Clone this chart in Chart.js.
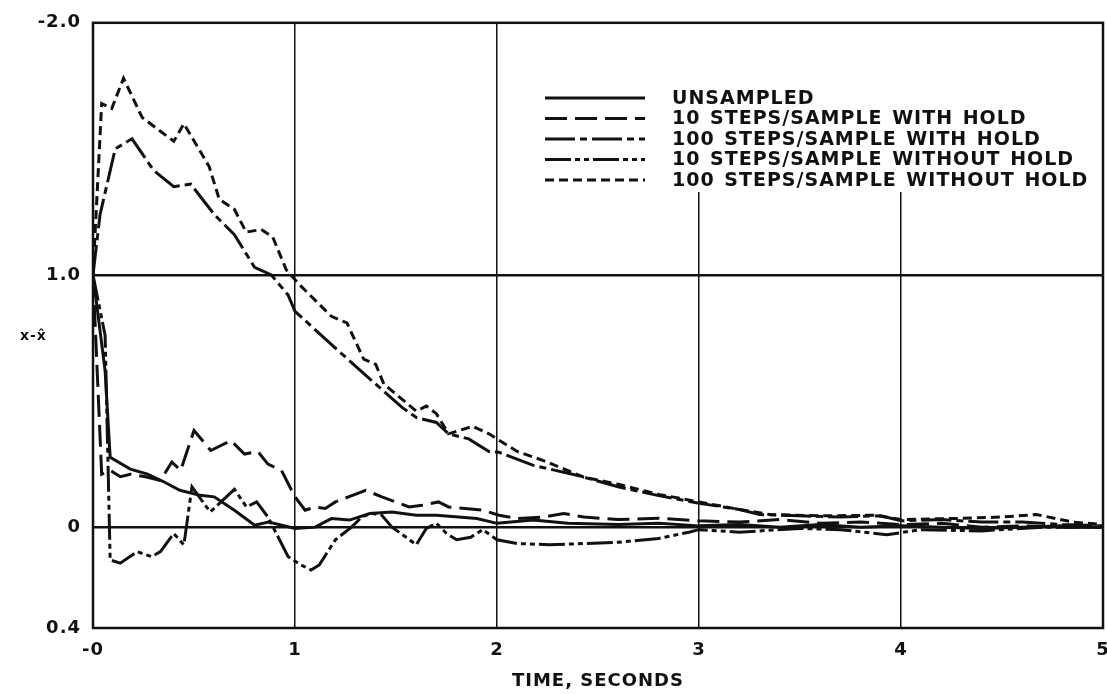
<!DOCTYPE html>
<html>
<head>
<meta charset="utf-8">
<script src="https://cdn.jsdelivr.net/npm/chart.js@4"></script>
<style>
  html, body { margin: 0; padding: 0; background: #fff; }
</style>
</head>
<body>
<canvas id="errChart" width="1107" height="694"></canvas>
<script>
// estimation error x - x̂ against time, five runs

const seriesNames = [
  'UNSAMPLED',
  '10 STEPS/SAMPLE WITH HOLD',
  '100 STEPS/SAMPLE WITH HOLD',
  '10 STEPS/SAMPLE WITHOUT HOLD',
  '100 STEPS/SAMPLE WITHOUT HOLD'
];

const xTickValues = [0, 1, 2, 3, 4, 5];
const xTickLabels = ['-0', '1', '2', '3', '4', '5'];
const yTickValues = [-0.4, 0, 1, 2];
const yTickLabels = ['0.4', '0', '1.0', '-2.0'];

// unsampled
const unsampledT = [0, 0.06, 0.085, 0.185, 0.27, 0.35, 0.43, 0.53, 0.6, 0.7, 0.8, 0.87, 1.0, 1.1, 1.18, 1.27, 1.37, 1.48, 1.6, 1.7, 1.81, 1.9, 2.0, 2.18, 2.35, 2.6, 2.8, 3.0, 3.2, 3.4, 3.6, 3.8, 4.0, 4.2, 4.4, 4.6, 4.8, 5.0];
const unsampledV = [1.0, 0.62, 0.277, 0.23, 0.21, 0.18, 0.146, 0.126, 0.12, 0.067, 0.008, 0.02, -0.005, 0.0, 0.034, 0.028, 0.054, 0.06, 0.047, 0.047, 0.04, 0.034, 0.015, 0.028, 0.015, 0.01, 0.015, 0.005, 0.01, 0.0, 0.01, 0.0, 0.005, 0.0, -0.005, 0.0, 0.005, 0.0];

// 10 steps/sample with hold
const hold10T = [0, 0.043, 0.085, 0.135, 0.185, 0.26, 0.334, 0.39, 0.434, 0.5, 0.583, 0.683, 0.75, 0.816, 0.866, 0.933, 1.0, 1.05, 1.1, 1.15, 1.2, 1.265, 1.35, 1.43, 1.565, 1.63, 1.71, 1.76, 1.93, 2.01, 2.1, 2.23, 2.33, 2.43, 2.6, 2.8, 3.0, 3.2, 3.4, 3.6, 3.8, 4.0, 4.2, 4.4, 4.6, 4.8, 5.0];
const hold10V = [1.0, 0.21, 0.225, 0.2, 0.21, 0.2, 0.185, 0.258, 0.225, 0.383, 0.304, 0.343, 0.29, 0.3, 0.25, 0.225, 0.12, 0.067, 0.08, 0.074, 0.1, 0.12, 0.146, 0.12, 0.08, 0.087, 0.1, 0.08, 0.067, 0.047, 0.034, 0.04, 0.054, 0.04, 0.03, 0.035, 0.025, 0.02, 0.03, 0.015, 0.02, 0.01, 0.015, 0.0, 0.005, 0.0, 0.0];

// 100 steps/sample with hold
const hold100T = [0, 0.035, 0.11, 0.193, 0.3, 0.4, 0.484, 0.6, 0.7, 0.8, 0.883, 0.966, 1.0, 1.2, 1.4, 1.53, 1.6, 1.7, 1.76, 1.86, 1.96, 2.01, 2.18, 2.4, 2.6, 2.8, 3.0, 3.2, 3.3, 3.5, 3.7, 3.9, 4.0, 4.2, 4.4, 4.6, 4.8, 5.0];
const hold100V = [1.0, 1.24, 1.5, 1.54, 1.415, 1.35, 1.36, 1.24, 1.16, 1.03, 1.0, 0.92, 0.856, 0.71, 0.567, 0.475, 0.435, 0.415, 0.37, 0.35, 0.3, 0.297, 0.245, 0.205, 0.16, 0.125, 0.095, 0.07, 0.05, 0.045, 0.04, 0.045, 0.025, 0.03, 0.02, 0.02, 0.01, 0.005];

// 10 steps/sample without hold
const noHold10T = [0, 0.06, 0.085, 0.135, 0.218, 0.29, 0.334, 0.4, 0.45, 0.49, 0.58, 0.7, 0.76, 0.81, 0.866, 0.966, 1.03, 1.08, 1.12, 1.2, 1.28, 1.33, 1.38, 1.43, 1.48, 1.55, 1.6, 1.65, 1.7, 1.75, 1.8, 1.87, 1.93, 2.0, 2.1, 2.26, 2.43, 2.6, 2.8, 2.95, 3.0, 3.2, 3.5, 3.7, 3.93, 4.1, 4.4, 4.7, 5.0];
const noHold10V = [1.0, 0.76, -0.13, -0.143, -0.097, -0.117, -0.097, -0.025, -0.07, 0.16, 0.06, 0.15, 0.08, 0.1, 0.04, -0.117, -0.15, -0.17, -0.15, -0.05, 0.0, 0.04, 0.055, 0.047, 0.0, -0.04, -0.07, -0.005, 0.015, -0.025, -0.05, -0.04, -0.01, -0.05, -0.065, -0.07, -0.065, -0.06, -0.045, -0.02, -0.01, -0.02, -0.005, -0.01, -0.03, -0.01, -0.015, 0.0, 0.0];

// 100 steps/sample without hold
const noHold100T = [0, 0.043, 0.093, 0.151, 0.243, 0.4, 0.45, 0.575, 0.625, 0.7, 0.758, 0.833, 0.89, 0.957, 1.024, 1.18, 1.257, 1.34, 1.4, 1.44, 1.6, 1.65, 1.7, 1.76, 1.88, 1.96, 2.1, 2.23, 2.43, 2.6, 2.8, 3.0, 3.2, 3.35, 3.6, 3.87, 4.0, 4.3, 4.5, 4.67, 4.85, 5.0];
const noHold100V = [1.0, 1.68, 1.66, 1.78, 1.625, 1.53, 1.6, 1.43, 1.3, 1.26, 1.17, 1.18, 1.15, 1.02, 0.96, 0.836, 0.81, 0.666, 0.645, 0.567, 0.46, 0.48, 0.45, 0.37, 0.4, 0.37, 0.3, 0.264, 0.198, 0.17, 0.13, 0.1, 0.07, 0.05, 0.045, 0.047, 0.03, 0.035, 0.04, 0.05, 0.02, 0.01];

const seriesT = [unsampledT, hold10T, hold100T, noHold10T, noHold100T];
const seriesV = [unsampledV, hold10V, hold100V, noHold10V, noHold100V];

const dashPatterns = [[], [22, 8], [30, 5, 7, 5], [26, 4, 5, 4, 5, 4], [9, 5]];
const ink = '#111';
const fontFamily = '"DejaVu Sans", "Liberation Sans", sans-serif';

const toPoints = (ts, vs) => ts.map((t, i) => ({ x: t, y: vs[i] }));

// frame, legend block and the horizontal y label
const paperFrame = {
  id: 'paperFrame',
  beforeDraw(chart) {
    // slightly spaced lettering for tick labels and title
    chart.ctx.letterSpacing = '1px';
  },
  beforeDatasetsDraw(chart) {
    const ctx = chart.ctx;
    ctx.save();
    // legend sits on a white patch that hides the grid lines behind it
    ctx.fillStyle = '#fff';
    ctx.fillRect(505, 22, 596, 170);
    ctx.strokeStyle = ink;
    ctx.fillStyle = ink;
    ctx.lineWidth = 3;
    ctx.font = 'bold 19px ' + fontFamily;
    ctx.textBaseline = 'middle';
    ctx.letterSpacing = '1px';
    ctx.wordSpacing = '2px';
    seriesNames.forEach((name, i) => {
      const y = 98 + i * 20.5;
      ctx.setLineDash(dashPatterns[i]);
      ctx.beginPath();
      ctx.moveTo(545, y);
      ctx.lineTo(645, y);
      ctx.stroke();
      ctx.fillText(name, 672, y + 1);
    });
    ctx.restore();
  },
  afterDraw(chart) {
    const { ctx, chartArea } = chart;
    ctx.save();
    ctx.strokeStyle = ink;
    ctx.lineWidth = 2.5;
    ctx.setLineDash([]);
    ctx.strokeRect(chartArea.left, chartArea.top, chartArea.right - chartArea.left, chartArea.bottom - chartArea.top);
    ctx.fillStyle = ink;
    ctx.font = 'bold 14px ' + fontFamily;
    ctx.textBaseline = 'middle';
    ctx.fillText('x-x\u0302', 20, 336);
    ctx.restore();
  }
};

new Chart(document.getElementById('errChart'), {
  type: 'line',
  data: {
    datasets: seriesNames.map((name, i) => ({
      label: name,
      data: toPoints(seriesT[i], seriesV[i]),
      borderColor: ink,
      borderWidth: 3,
      borderDash: dashPatterns[i],
      pointRadius: 0,
      tension: 0,
      fill: false
    }))
  },
  options: {
    responsive: false,
    animation: false,
    layout: { padding: { top: 20, right: 4, left: 0, bottom: 0 } },
    plugins: {
      legend: { display: false },
      tooltip: { enabled: false }
    },
    scales: {
      x: {
        type: 'linear',
        min: 0,
        max: 5,
        border: { display: false },
        grid: { color: ink, lineWidth: 1.5, drawTicks: false },
        ticks: {
          stepSize: 1,
          padding: 12,
          color: ink,
          maxRotation: 0,
          font: { family: fontFamily, size: 18, weight: 'bold' },
          callback: v => xTickLabels[xTickValues.indexOf(v)]
        },
        title: {
          display: true,
          text: 'TIME, SECONDS',
          color: ink,
          font: { family: fontFamily, size: 18, weight: 'bold' },
          padding: { top: 0, bottom: 2 }
        },
        afterFit(scale) {
          scale.height = 66;
          scale.paddingLeft = 0;
          scale.paddingRight = 0;
        }
      },
      y: {
        type: 'linear',
        min: -0.4,
        max: 2.0,
        border: { display: false },
        grid: {
          color: ink,
          drawTicks: false,
          lineWidth: c => (c.tick && (c.tick.value === 0 || c.tick.value === 1)) ? 2.5 : 0
        },
        afterBuildTicks(scale) {
          scale.ticks = yTickValues.map(v => ({ value: v }));
        },
        ticks: {
          padding: 12,
          color: ink,
          font: { family: fontFamily, size: 18, weight: 'bold' },
          callback: v => yTickLabels[yTickValues.indexOf(v)]
        },
        afterFit(scale) {
          scale.width = 93;
        }
      }
    }
  },
  plugins: [paperFrame]
});
</script>
</body>
</html>
